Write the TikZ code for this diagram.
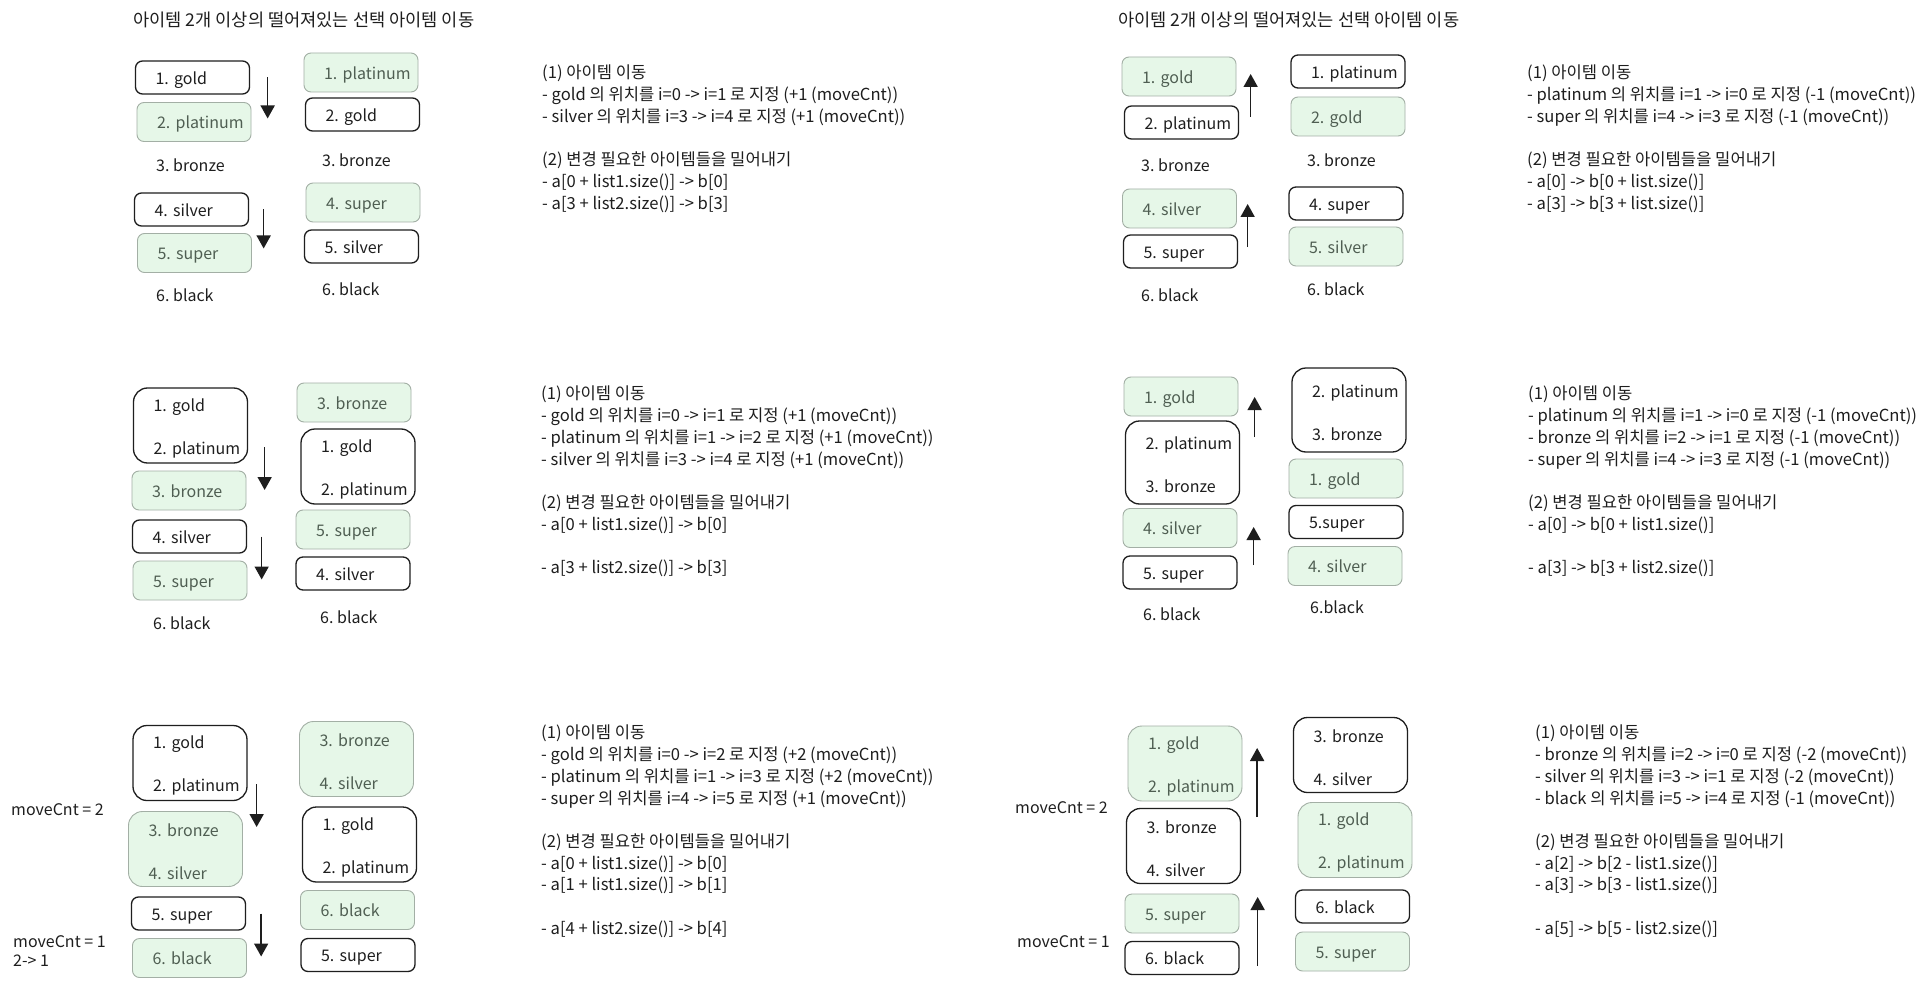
\documentclass[tikz,border=0pt]{standalone}
\usepackage{fontspec}
\setmainfont{Noto Sans CJK KR}
\usetikzlibrary{arrows.meta}
\frenchspacing
\hyphenpenalty=10000
\exhyphenpenalty=10000
\definecolor{ink}{HTML}{1E1E1E}
\definecolor{selfill}{HTML}{E6F7E8}
\definecolor{selline}{HTML}{A3AFA5}
\definecolor{seltext}{HTML}{4F5E52}
\newcommand*{\itemfont}{\fontsize{16}{19}\selectfont}
\newcommand*{\notefont}{\fontsize{16.6}{21.7}\selectfont}
\newcommand*{\titlefont}{\fontsize{17.6}{20}\selectfont}
\tikzset{
  itembox/.style={draw=ink, line width=1.3pt, rounded corners=7pt, fill=white, text=ink,
    font=\itemfont, minimum width=114pt, minimum height=33pt, text width=74pt,
    inner xsep=20pt, align=left, text height=17.5pt, text depth=4pt},
  selbox/.style={itembox, draw=selline, line width=0.9pt, fill=selfill, text=seltext,
    minimum height=39pt},
  tallbox/.style={minimum height=75pt, rounded corners=14pt, text height=18pt, text depth={}},
  plain/.style={anchor=west, inner sep=0pt, text=ink, font=\itemfont},
  note/.style={anchor=north west, inner sep=0pt, align=left, text=ink, font=\notefont},
  movearrow/.style={draw=ink, line width=1.6pt, -{Triangle[width=14pt,length=13pt]}},
}
\begin{document}
\begin{tikzpicture}[x=1pt, y=-1pt]
\path[fill=white, use as bounding box] (0,0) rectangle (1930,987);

% Titles
\node[plain, font=\titlefont] (title1) at (133,20) {아이템 2개 이상의 떨어져있는 선택 아이템 이동};
\node[plain, font=\titlefont] (title2) at (1118,20) {아이템 2개 이상의 떨어져있는 선택 아이템 이동};

% Panel 1: move down by one
\node[itembox] (p1Lgold) at (192.5,77.5) {1.~gold};
\node[selbox] (p1Lplat) at (194,122) {2.~platinum};
\node[plain] (p1Lbronze) at (156,165) {3. bronze};
\node[itembox] (p1Lsilver) at (191.5,209.5) {4.~silver};
\node[selbox] (p1Lsuper) at (194.5,253) {5.~super};
\node[plain] (p1Lblack) at (156,295) {6. black};
\draw[movearrow] ([xshift=17.5pt]p1Lgold.east) -- ++(0,41);
\draw[movearrow] ([xshift=14.5pt]p1Lsilver.east) -- ++(0,39);

\node[selbox] (p1Rplat) at (361,72.5) {1.~platinum};
\node[itembox] (p1Rgold) at (362.5,114.5) {2.~gold};
\node[plain] (p1Rbronze) at (322,160) {3. bronze};
\node[selbox] (p1Rsuper) at (363,202.5) {4.~super};
\node[itembox] (p1Rsilver) at (361.5,246.5) {5.~silver};
\node[plain] (p1Rblack) at (322,289) {6. black};

\node[note] (note1) at (542,65) {(1) 아이템 이동\\
- gold 의 위치를 i=0 -> i=1 로 지정 (+1 (moveCnt))\\
- silver 의 위치를 i=3 -> i=4 로 지정 (+1 (moveCnt))\\[21.7pt]
(2) 변경 필요한 아이템들을 밀어내기\\
- a[0 + list1.size()] -> b[0]\\
- a[3 + list2.size()] -> b[3]};

% Panel 2: move up by one
\node[selbox] (p2Lgold) at (1179,76.5) {1.~gold};
\node[itembox] (p2Lplat) at (1181.5,122.5) {2.~platinum};
\node[plain] (p2Lbronze) at (1141,165) {3. bronze};
\node[selbox] (p2Lsilver) at (1179.5,208.5) {4.~silver};
\node[itembox] (p2Lsuper) at (1180.5,251.5) {5.~super};
\node[plain] (p2Lblack) at (1141,295) {6. black};
\draw[movearrow] ([xshift=11.5pt,yshift=5.5pt]p2Lplat.east) -- ++(0,-43);
\draw[movearrow] ([xshift=9.5pt,yshift=4.5pt]p2Lsuper.east) -- ++(0,-43);

\node[itembox] (p2Rplat) at (1348,71.5) {1.~platinum};
\node[selbox] (p2Rgold) at (1348,116.5) {2.~gold};
\node[plain] (p2Rbronze) at (1307,160) {3. bronze};
\node[itembox] (p2Rsuper) at (1346,203.5) {4.~super};
\node[selbox] (p2Rsilver) at (1346,246.5) {5.~silver};
\node[plain] (p2Rblack) at (1307,289) {6. black};

\node[note] (note2) at (1527,65) {(1) 아이템 이동\\
- platinum 의 위치를 i=1 -> i=0 로 지정 (-1 (moveCnt))\\
- super 의 위치를 i=4 -> i=3 로 지정 (-1 (moveCnt))\\[21.7pt]
(2) 변경 필요한 아이템들을 밀어내기\\
- a[0] -> b[0 + list.size()]\\
- a[3] -> b[3 + list.size()]};

% Panel 3: grouped items move down
\node[itembox, tallbox] (p3Lgold) at (190.5,425.5) {1.~gold\\[24pt]2.~platinum};
\node[selbox] (p3Lbronze) at (189,490.5) {3.~bronze};
\node[itembox] (p3Lsilver) at (189.5,536.5) {4.~silver};
\node[selbox] (p3Lsuper) at (190,580.5) {5.~super};
\node[plain] (p3Lblack) at (153,623) {6. black};
\draw[movearrow] ([xshift=16.5pt,yshift=-21.5pt]p3Lgold.east) -- ++(0,43);
\draw[movearrow] ([xshift=14.5pt]p3Lsilver.east) -- ++(0,43);

\node[selbox] (p3Rbronze) at (354,402.5) {3.~bronze};
\node[itembox, tallbox] (p3Rgold) at (358,466.5) {1.~gold\\[24pt]2.~platinum};
\node[selbox] (p3Rsuper) at (353,529.5) {5.~super};
\node[itembox] (p3Rsilver) at (353,573.5) {4.~silver};
\node[plain] (p3Rblack) at (320,617) {6. black};

\node[note] (note3) at (541,386) {(1) 아이템 이동\\
- gold 의 위치를 i=0 -> i=1 로 지정 (+1 (moveCnt))\\
- platinum 의 위치를 i=1 -> i=2 로 지정 (+1 (moveCnt))\\
- silver 의 위치를 i=3 -> i=4 로 지정 (+1 (moveCnt))\\[21.7pt]
(2) 변경 필요한 아이템들을 밀어내기\\
- a[0 + list1.size()] -> b[0]\\[21.7pt]
- a[3 + list2.size()] -> b[3]};

% Panel 4: grouped items move up
\node[selbox] (p4Lgold) at (1181,396.5) {1.~gold};
\node[itembox, tallbox, minimum height=83pt] (p4Lplat) at (1182.5,462.5) {2.~platinum\\[24pt]3.~bronze};
\node[selbox] (p4Lsilver) at (1180,528) {4.~silver};
\node[itembox] (p4Lsuper) at (1180,572.5) {5.~super};
\node[plain] (p4Lblack) at (1143,614) {6. black};
\draw[movearrow] ([xshift=14.5pt,yshift=25.5pt]p4Lplat.east) -- ++(0,-40);
\draw[movearrow] ([xshift=16pt,yshift=7.5pt]p4Lsuper.east) -- ++(0,-38);

\node[itembox, tallbox, minimum height=84pt] (p4Rplat) at (1349,410) {2.~platinum\\[24pt]3.~bronze};
\node[selbox] (p4Rgold) at (1346,478.5) {1.~gold};
\node[itembox] (p4Rsuper) at (1346,522) {5.super};
\node[selbox] (p4Rsilver) at (1345,566) {4.~silver};
\node[plain] (p4Rblack) at (1310,607) {6.black};

\node[note] (note4) at (1528,386) {(1) 아이템 이동\\
- platinum 의 위치를 i=1 -> i=0 로 지정 (-1 (moveCnt))\\
- bronze 의 위치를 i=2 -> i=1 로 지정 (-1 (moveCnt))\\
- super 의 위치를 i=4 -> i=3 로 지정 (-1 (moveCnt))\\[21.7pt]
(2) 변경 필요한 아이템들을 밀어내기\\
- a[0] -> b[0 + list1.size()]\\[21.7pt]
- a[3] -> b[3 + list2.size()]};

% Panel 5: move down by two
\node[plain] (cnt5a) at (11,810) {moveCnt = 2};
\node[plain, align=left] (cnt5b) at (13,951) {moveCnt = 1\\2-> 1};
\node[itembox, tallbox] (p5Lgold) at (190,763) {1.~gold\\[24pt]2.~platinum};
\node[selbox, tallbox] (p5Lbronze) at (185.5,849) {3.~bronze\\[24pt]4.~silver};
\node[itembox] (p5Lsuper) at (188.5,913.5) {5.~super};
\node[selbox] (p5Lblack) at (189.5,958) {6.~black};
\draw[movearrow] ([xshift=9pt,yshift=-21pt]p5Lgold.east) -- ++(0,43);
\draw[movearrow] ([xshift=15pt]p5Lsuper.east) -- ++(0,43);

\node[selbox, tallbox] (p5Rbronze) at (356.5,759) {3.~bronze\\[24pt]4.~silver};
\node[itembox, tallbox] (p5Rgold) at (359.5,844.5) {1.~gold\\[24pt]2.~platinum};
\node[selbox] (p5Rblack) at (357.5,910) {6.~black};
\node[itembox] (p5Rsuper) at (358,955) {5.~super};

\node[note] (note5) at (541,725) {(1) 아이템 이동\\
- gold 의 위치를 i=0 -> i=2 로 지정 (+2 (moveCnt))\\
- platinum 의 위치를 i=1 -> i=3 로 지정 (+2 (moveCnt))\\
- super 의 위치를 i=4 -> i=5 로 지정 (+1 (moveCnt))\\[21.7pt]
(2) 변경 필요한 아이템들을 밀어내기\\
- a[0 + list1.size()] -> b[0]\\
- a[1 + list1.size()] -> b[1]\\[21.7pt]
- a[4 + list2.size()] -> b[4]};

% Panel 6: move up by two
\node[plain] (cnt6a) at (1015,808) {moveCnt = 2};
\node[plain] (cnt6b) at (1017,942) {moveCnt = 1};
\node[selbox, tallbox] (p6Lgold) at (1185,763.5) {1.~gold\\[24pt]2.~platinum};
\node[itembox, tallbox] (p6Lbronze) at (1183.5,846) {3.~bronze\\[24pt]4.~silver};
\node[selbox] (p6Lsuper) at (1182,913.5) {5.~super};
\node[itembox] (p6Lblack) at (1182,958) {6.~black};
\draw[movearrow] ([xshift=16pt,yshift=29pt]p6Lbronze.east) -- ++(0,-69);
\draw[movearrow] ([xshift=18pt,yshift=-8pt]p6Lblack.east) -- ++(0,-69);

\node[itembox, tallbox] (p6Rbronze) at (1350.5,755) {3.~bronze\\[24pt]4.~silver};
\node[selbox, tallbox] (p6Rgold) at (1355,840) {1.~gold\\[24pt]2.~platinum};
\node[itembox] (p6Rblack) at (1352.5,906.5) {6.~black};
\node[selbox] (p6Rsuper) at (1352.5,951.5) {5.~super};

\node[note] (note6) at (1535,725) {(1) 아이템 이동\\
- bronze 의 위치를 i=2 -> i=0 로 지정 (-2 (moveCnt))\\
- silver 의 위치를 i=3 -> i=1 로 지정 (-2 (moveCnt))\\
- black 의 위치를 i=5 -> i=4 로 지정 (-1 (moveCnt))\\[21.7pt]
(2) 변경 필요한 아이템들을 밀어내기\\
- a[2] -> b[2 - list1.size()]\\
- a[3] -> b[3 - list1.size()]\\[21.7pt]
- a[5] -> b[5 - list2.size()]};

\end{tikzpicture}
\end{document}
